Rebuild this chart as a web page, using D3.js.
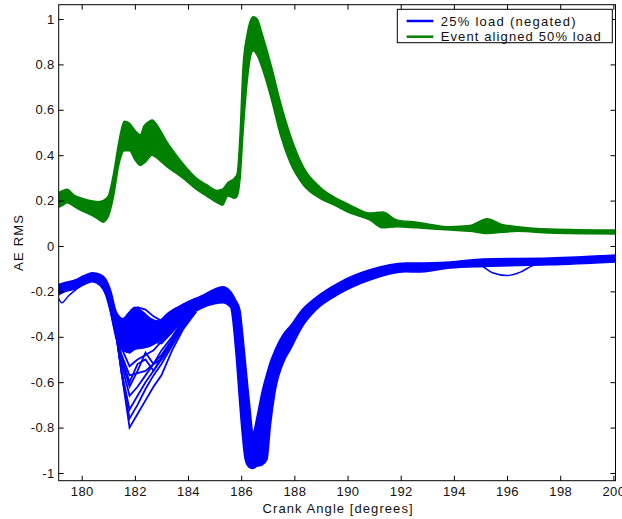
<!DOCTYPE html>
<html><head><meta charset="utf-8">
<script src="https://cdn.jsdelivr.net/npm/d3@7/dist/d3.min.js"></script>
<style>
html,body{margin:0;padding:0;background:#fff;}
svg{display:block;font-family:"Liberation Sans",Arial,sans-serif;}
</style></head>
<body>
<svg id="chart" width="622" height="519"></svg>
<script>
// ---------- data ----------
const xTicks = [180,182,184,186,188,190,192,194,196,198,200];
const yTicks = [-1,-0.8,-0.6,-0.4,-0.2,0,0.2,0.4,0.6,0.8,1];
const seriesNames = ["25% load (negated)", "Event aligned 50% load"];
const seriesColors = ["#0000ff", "#008000"];

// Green (event aligned 50% load): envelope of the bundle of traces
const greenX     = [179.13,179.3,179.45,179.7,180.0,180.3,180.6,180.8,181.0,181.2,181.4,181.6,181.8,182.0,182.2,182.4,182.65,182.9,183.2,183.5,183.9,184.3,184.7,185.1,185.3,185.5,185.75,185.85,185.96,186.07,186.22,186.45,186.6,186.8,187.15,187.46,187.83,188.33,188.96,189.5,190.1,190.83,191.32,191.85,192.6,193.86,194.6,195.25,195.8,196.4,197.6,200.1];
const greenUpper = [0.235,0.245,0.25,0.225,0.21,0.20,0.195,0.20,0.22,0.32,0.46,0.55,0.54,0.51,0.49,0.53,0.555,0.52,0.46,0.41,0.35,0.30,0.27,0.245,0.25,0.28,0.30,0.32,0.50,0.79,0.93,1.01,1.0,0.93,0.785,0.64,0.495,0.35,0.26,0.215,0.18,0.145,0.15,0.115,0.105,0.085,0.09,0.12,0.095,0.085,0.075,0.07];
const greenLower = [0.17,0.18,0.19,0.175,0.155,0.14,0.12,0.105,0.13,0.22,0.36,0.42,0.42,0.38,0.355,0.37,0.40,0.38,0.35,0.325,0.29,0.25,0.22,0.19,0.18,0.22,0.21,0.22,0.30,0.50,0.72,0.86,0.84,0.78,0.64,0.495,0.37,0.27,0.21,0.18,0.145,0.115,0.08,0.085,0.08,0.07,0.065,0.055,0.06,0.065,0.057,0.053];
// single green traces standing out of the bundle
const greenLoopX = [182.2,182.35,182.6,182.85,183.0,183.3,183.6];
const greenLoopY = [0.47,0.53,0.55,0.53,0.49,0.42,0.385];

// Blue (25% load, negated): envelope of the bundle of traces
const blueX     = [179.13,179.4,179.75,180.1,180.4,180.7,180.9,181.1,181.3,181.55,181.8,182.0,182.3,182.6,182.9,183.2,183.6,184.0,184.5,185.0,185.3,185.6,185.8,185.95,186.05,186.15,186.3,186.45,186.6,186.78,186.97,187.1,187.27,187.64,187.83,188.3,188.83,189.7,190.84,192.2,192.6,193.86,195.1,197.6,200.1];
const blueUpper = [-0.17,-0.16,-0.15,-0.13,-0.118,-0.125,-0.145,-0.2,-0.29,-0.32,-0.29,-0.27,-0.29,-0.32,-0.33,-0.30,-0.27,-0.245,-0.22,-0.19,-0.18,-0.20,-0.24,-0.28,-0.38,-0.5,-0.68,-0.82,-0.75,-0.645,-0.56,-0.51,-0.46,-0.38,-0.355,-0.28,-0.225,-0.16,-0.105,-0.075,-0.075,-0.07,-0.057,-0.053,-0.04];
const blueLower = [-0.215,-0.20,-0.19,-0.17,-0.158,-0.175,-0.215,-0.3,-0.41,-0.46,-0.47,-0.455,-0.45,-0.44,-0.42,-0.40,-0.355,-0.31,-0.275,-0.255,-0.25,-0.27,-0.47,-0.7,-0.84,-0.94,-0.975,-0.98,-0.97,-0.965,-0.94,-0.79,-0.645,-0.5,-0.46,-0.355,-0.28,-0.21,-0.15,-0.114,-0.115,-0.097,-0.09,-0.083,-0.07];
// blue traces that spread out around 181-184 degrees
const spreadX = [180.9,181.2,181.5,181.8,182.1,182.4,182.7,183.0,183.4,183.8,184.3];
const spreadA = [-0.18,-0.30,-0.56,-0.80,-0.74,-0.68,-0.62,-0.57,-0.46,-0.37,-0.29];
const spreadB = [-0.18,-0.32,-0.55,-0.72,-0.66,-0.60,-0.55,-0.50,-0.43,-0.35,-0.28];
const spreadK = [-0.18,-0.31,-0.56,-0.76,-0.70,-0.63,-0.57,-0.52,-0.44,-0.36,-0.29];
const spreadC = [-0.17,-0.33,-0.52,-0.66,-0.62,-0.57,-0.52,-0.48,-0.41,-0.34,-0.28];
const spreadD = [-0.18,-0.34,-0.50,-0.62,-0.55,-0.47,-0.52,-0.50,-0.43,-0.35,-0.28];
const spreadE = [-0.18,-0.35,-0.48,-0.57,-0.56,-0.55,-0.52,-0.46,-0.40,-0.33,-0.27];
const spreadL = [-0.18,-0.34,-0.49,-0.60,-0.52,-0.50,-0.55,-0.49,-0.42,-0.34,-0.28];
const spreadF = [-0.17,-0.32,-0.45,-0.53,-0.50,-0.48,-0.46,-0.42,-0.37,-0.32,-0.27];
const spreadH = [-0.17,-0.30,-0.36,-0.30,-0.27,-0.28,-0.31,-0.33,-0.30,-0.26,-0.23];
const spreadI = [-0.17,-0.31,-0.42,-0.40,-0.36,-0.34,-0.38,-0.40,-0.36,-0.31,-0.26];
const spreadJ = [-0.18,-0.33,-0.44,-0.47,-0.42,-0.40,-0.42,-0.43,-0.38,-0.32,-0.27];
const spreadM = [-0.17,-0.30,-0.39,-0.35,-0.31,-0.33,-0.36,-0.36,-0.33,-0.28,-0.24];
const blueLeftX = [179.13,179.25,179.5,179.8,180.1];
const blueLeftY = [-0.23,-0.25,-0.22,-0.19,-0.16];
const blueDipX  = [194.6,195.0,195.45,196.0,196.5,196.9,197.2];
const blueDipY  = [-0.075,-0.085,-0.118,-0.13,-0.115,-0.09,-0.075];

// ---------- layout ----------
const L = 58.7, R = 615.5, T = 4.7, B = 480.7;
const svg = d3.select("#chart");
const x = d3.scaleLinear().domain([179.135, 200.08]).range([L, R]);
const y = d3.scaleLinear().domain([-1.034, 1.063]).range([B, T]);

svg.append("defs").append("clipPath").attr("id","clip")
  .append("rect").attr("x",L).attr("y",T).attr("width",R-L).attr("height",B-T);

const plot = svg.append("g").attr("clip-path","url(#clip)");

function band(xs, up, lo, color){
  const pts = xs.map((d,i)=>({x:d,u:up[i],l:lo[i]}));
  const area = d3.area().x(d=>x(d.x)).y0(d=>y(d.l)).y1(d=>y(d.u)).curve(d3.curveMonotoneX);
  plot.append("path").datum(pts).attr("d",area).attr("fill",color).attr("stroke",color).attr("stroke-width",1.5);
}
function trace(xs, ys, color, curve, w){
  const pts = xs.map((d,i)=>[d,ys[i]]);
  const line = d3.line().x(d=>x(d[0])).y(d=>y(d[1])).curve(curve||d3.curveMonotoneX);
  plot.append("path").datum(pts).attr("d",line).attr("fill","none").attr("stroke",color).attr("stroke-width",w||1.5);
}

band(greenX, greenUpper, greenLower, seriesColors[1]);
trace(greenLoopX, greenLoopY, seriesColors[1]);

band(blueX, blueUpper, blueLower, seriesColors[0]);
[spreadA,spreadB,spreadK,spreadC,spreadD,spreadE,spreadL,spreadF,spreadH,spreadI,spreadJ,spreadM]
  .forEach(s=>trace(spreadX, s, seriesColors[0], d3.curveLinear, 1.8));
trace(blueLeftX, blueLeftY, seriesColors[0]);
trace(blueDipX, blueDipY, seriesColors[0]);

// ---------- axes ----------
const fmt = d => (d<0?"-":"") + String(+Math.abs(d).toFixed(1));
const gx = svg.append("g").attr("transform",`translate(0,${B})`)
  .call(d3.axisBottom(x).tickValues(xTicks).tickSizeInner(-5).tickSizeOuter(0).tickPadding(6).tickFormat(d3.format("d")));
const gy = svg.append("g").attr("transform",`translate(${L},0)`)
  .call(d3.axisLeft(y).tickValues(yTicks).tickSizeInner(-5).tickSizeOuter(0).tickPadding(4).tickFormat(fmt));
const gt = svg.append("g").attr("transform",`translate(0,${T})`)
  .call(d3.axisTop(x).tickValues(xTicks).tickSizeInner(-5).tickSizeOuter(0).tickFormat(""));
const gr = svg.append("g").attr("transform",`translate(${R},0)`)
  .call(d3.axisRight(y).tickValues(yTicks).tickSizeInner(-5).tickSizeOuter(0).tickFormat(""));
[gx,gy,gt,gr].forEach(g=>{
  g.select(".domain").remove();
  g.selectAll(".tick line").attr("stroke","#000");
  g.selectAll("text").attr("font-size",13).attr("fill","#111").attr("letter-spacing","0.4px")
    .attr("font-family","'Liberation Sans',Arial,sans-serif");
});
svg.append("rect").attr("x",L).attr("y",T).attr("width",R-L).attr("height",B-T)
  .attr("fill","none").attr("stroke","#000").attr("stroke-width",1);

svg.append("text").attr("x",(L+R)/2+0.5).attr("y",513).attr("text-anchor","middle")
  .attr("font-size",13).attr("fill","#111").attr("textLength",150).attr("lengthAdjust","spacing")
  .text("Crank Angle [degrees]");
svg.append("text").attr("transform","translate(23,243) rotate(-90)").attr("text-anchor","middle")
  .attr("font-size",13).attr("fill","#111").attr("textLength",56).attr("lengthAdjust","spacing")
  .text("AE RMS");

// ---------- legend ----------
const lg = svg.append("g");
lg.append("rect").attr("x",397.3).attr("y",9.3).attr("width",215).attr("height",33.4)
  .attr("fill","#fff").attr("stroke","#000").attr("stroke-width",1);
seriesNames.forEach((n,i)=>{
  const yy = 21 + i*15.7;
  lg.append("line").attr("x1",406.7).attr("x2",433.3).attr("y1",yy).attr("y2",yy)
    .attr("stroke",seriesColors[i]).attr("stroke-width",2.5);
  lg.append("text").attr("x",440.7).attr("y",yy+4.5).attr("font-size",13).attr("fill","#111")
    .attr("textLength", i===0?135:160).attr("lengthAdjust","spacing").text(n);
});
</script>
</body></html>
